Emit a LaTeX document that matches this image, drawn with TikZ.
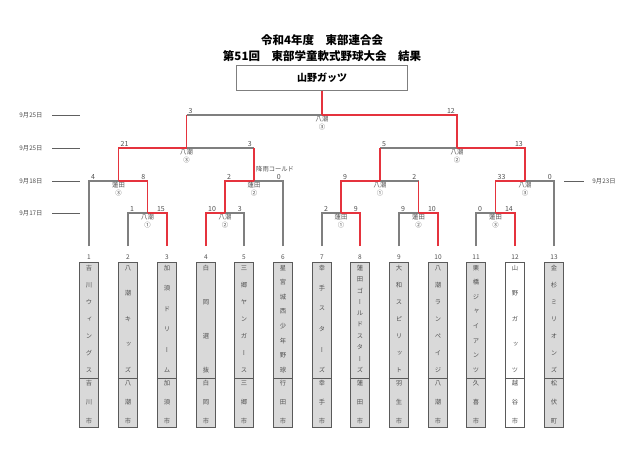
\documentclass[tikz,border=0pt]{standalone}
\usepackage{fontspec}
\setmainfont{Noto Sans CJK JP}
\newfontfamily\vfont[RawFeature=+vert]{Noto Sans CJK JP}
\definecolor{lgray}{HTML}{7F7F7F}
\definecolor{lred}{HTML}{E5333D}
\definecolor{boxfill}{HTML}{D9D9D9}
\definecolor{boxdraw}{HTML}{5A5A5A}
\definecolor{txtgray}{HTML}{505050}
\definecolor{dgray}{HTML}{606060}
\tikzset{
 gl/.style={draw=lgray, line width=1.3pt},
 rl/.style={draw=lred, line width=1.7pt},
 teamrect/.style={draw=boxdraw, line width=1pt, minimum width=19.5pt, minimum height=165pt, inner sep=0pt},
 boxdiv/.style={draw=boxdraw, line width=1pt},
 chr/.style={font=\vfont\fontsize{6.3}{6.3}\selectfont, text=txtgray, inner sep=0pt},
 numlbl/.style={font=\fontsize{6.5}{7}\selectfont, text=txtgray, inner sep=0pt},
 scL/.style={anchor=south west, font=\fontsize{7}{8}\selectfont, text=txtgray, inner sep=0pt, xshift=2pt, yshift=1.2pt},
 scR/.style={anchor=south east, font=\fontsize{7}{8}\selectfont, text=txtgray, inner sep=0pt, xshift=-2pt, yshift=1.2pt},
 venue/.style={anchor=north, align=center, font=\fontsize{6.3}{7.3}\selectfont, text=txtgray, inner sep=0pt, yshift=-1.5pt},
 datel/.style={font=\fontsize{6.3}{7}\selectfont, text=txtgray, inner sep=0pt},
 dline/.style={draw=dgray, line width=1pt},
 titlest/.style={font=\bfseries\fontsize{11.5}{12}\selectfont, inner sep=0pt},
 winbox/.style={draw=lgray, line width=1pt, minimum width=171pt, minimum height=24pt, inner sep=0pt, font=\bfseries\fontsize{10}{11}\selectfont},
}
\newcommand\tmbox[6]{%
  \node[teamrect, fill=#3] (box#1) at (#2,344.5) {};
  \coordinate (dv#1) at (#2,378);
  \draw[boxdiv] (box#1.west |- dv#1) -- (box#1.east |- dv#1);
  \node[numlbl] (num#1) at (#2,257) {#1};
  \foreach \ch [count=\k] in {#5} {\node[chr] (c#1-\k) at (#2,{268+(\k-1)*102/(#4-1)}) {\ch};}
  \foreach \ch [count=\k] in {#6} {\node[chr] (d#1-\k) at (#2,{383+(\k-1)*19}) {\ch};}
  \coordinate (t#1) at (#2,246);
}
\begin{document}
\begin{tikzpicture}[x=1pt,y=-1pt]
\useasboundingbox (0,0) rectangle (640,452);
\fill[white] (0,0) rectangle (640,452);
% titles
\node[titlest] (title1) at (322,40) {令和4年度　東部連合会};
\node[titlest] (title2) at (322,56) {第51回　東部学童軟式野球大会　結果};
\node[winbox] (win) at (322,78) {山野ガッツ};
% teams
\tmbox{1}{89}{boxfill}{7}{吉,川,ウ,ィ,ン,グ,ス}{吉,川,市}
\tmbox{2}{128}{boxfill}{5}{八,潮,キ,ッ,ズ}{八,潮,市}
\tmbox{3}{167}{boxfill}{6}{加,須,ド,リ,ー,ム}{加,須,市}
\tmbox{4}{206}{boxfill}{4}{白,岡,選,抜}{白,岡,市}
\tmbox{5}{244}{boxfill}{7}{三,郷,ヤ,ン,ガ,ー,ス}{三,郷,市}
\tmbox{6}{283}{boxfill}{8}{星,宮,城,西,少,年,野,球}{行,田,市}
\tmbox{7}{322}{boxfill}{6}{幸,手,ス,タ,ー,ズ}{幸,手,市}
\tmbox{8}{360}{boxfill}{10}{蓮,田,ゴ,ー,ル,ド,ス,タ,ー,ズ}{蓮,田,市}
\tmbox{9}{399}{boxfill}{7}{大,和,ス,ピ,リ,ッ,ト}{羽,生,市}
\tmbox{10}{438}{boxfill}{7}{八,潮,ラ,ン,ペ,イ,ジ}{八,潮,市}
\tmbox{11}{476}{boxfill}{8}{栗,橋,ジ,ャ,イ,ア,ン,ツ}{久,喜,市}
\tmbox{12}{515}{white}{5}{山,野,ガ,ッ,ツ}{越,谷,市}
\tmbox{13}{554}{boxfill}{7}{金,杉,ミ,リ,オ,ン,ズ}{松,伏,町}
% match points
\coordinate (m23) at (147.5,213);
\coordinate (m45) at (225,213);
\coordinate (m78) at (341,213);
\coordinate (m910) at (418.5,213);
\coordinate (m1112) at (495.5,213);
\coordinate (q1) at (118.5,181);
\coordinate (q2) at (254,181);
\coordinate (q3) at (380,181);
\coordinate (q4) at (525,181);
\coordinate (s1) at (186.5,148);
\coordinate (s2) at (457,148);
\coordinate (fin) at (322,115);
% gray lines
\draw[gl] (t1) |- (q1);
\draw[gl] (t2) |- (m23);
\draw[gl] (t5) |- (m45);
\draw[gl] (t6) |- (q2);
\draw[gl] (t7) |- (m78);
\draw[gl] (t9) |- (m910);
\draw[gl] (t11) |- (m1112);
\draw[gl] (t13) |- (q4);
\draw[gl] (m910 |- q3) -- (q3);
\draw[gl] (q2 |- s1) -- (s1);
\draw[gl] (q3 |- s2) -- (s2);
\draw[gl] (s1 |- fin) -- (fin);
% red lines
\draw[rl] (t3) |- (m23);
\draw[rl] (t4) |- (m45);
\draw[rl] (t8) |- (m78);
\draw[rl] (t10) |- (m910);
\draw[rl] (t12) |- (m1112);
\draw[rl] (m23) |- (q1);
\draw[rl] (m45) |- (q2);
\draw[rl] (m78) |- (q3);
\draw[rl] (m910) -- (m910 |- q3);
\draw[rl] (m1112) |- (q4);
\draw[rl] (q1) |- (s1);
\draw[rl] (q2) -- (q2 |- s1);
\draw[rl] (q3) -- (q3 |- s2);
\draw[rl] (q4) |- (s2);
\draw[rl] (s1) -- (s1 |- fin);
\draw[rl] (s2) |- (fin);
\draw[rl] (win.south) -- (fin);
% scores
\node[scL] (sc-f1) at (186.5,115) {3};
\node[scR] (sc-f2) at (457,115) {12};
\node[scL] (sc-s11) at (118.5,148) {21};
\node[scR] (sc-s12) at (254,148) {3};
\node[scL] (sc-s21) at (380,148) {5};
\node[scR] (sc-s22) at (525,148) {13};
\node[scL] (sc-q11) at (89,181) {4};
\node[scR] (sc-q12) at (147.5,181) {8};
\node[scL] (sc-q21) at (225,181) {2};
\node[scR] (sc-q22) at (283,181) {0};
\node[scL] (sc-q31) at (341,181) {9};
\node[scR] (sc-q32) at (418.5,181) {2};
\node[scL] (sc-q41) at (495.5,181) {33};
\node[scR] (sc-q42) at (554,181) {0};
\node[scL] (sc-a1) at (128,213) {1};
\node[scR] (sc-a2) at (167,213) {15};
\node[scL] (sc-b1) at (206,213) {10};
\node[scR] (sc-b2) at (244,213) {3};
\node[scL] (sc-c1) at (322,213) {2};
\node[scR] (sc-c2) at (360,213) {9};
\node[scL] (sc-d1) at (399,213) {9};
\node[scR] (sc-d2) at (438,213) {10};
\node[scL] (sc-e1) at (476,213) {0};
\node[scR] (sc-e2) at (515,213) {14};
% venues
\node[venue] (v-f) at (fin) {八潮\\③};
\node[venue] (v-s1) at (s1) {八潮\\③};
\node[venue] (v-s2) at (s2) {八潮\\②};
\node[venue] (v-q1) at (q1) {蓮田\\③};
\node[venue] (v-q2) at (q2) {蓮田\\②};
\node[venue] (v-q3) at (q3) {八潮\\①};
\node[venue] (v-q4) at (q4) {八潮\\③};
\node[venue] (v-m23) at (m23) {八潮\\①};
\node[venue] (v-m45) at (m45) {八潮\\②};
\node[venue] (v-m78) at (m78) {蓮田\\①};
\node[venue] (v-m910) at (m910) {蓮田\\②};
\node[venue] (v-m1112) at (m1112) {蓮田\\③};
\node[datel, anchor=west] (rain) at (256,169) {降雨コールド};
% dates
\node[datel] (date1) at (31,115) {9月25日};
\node[datel] (date2) at (31,148) {9月25日};
\node[datel] (date3) at (31,181) {9月18日};
\node[datel] (date4) at (31,213) {9月17日};
\node[datel] (date5) at (604,181) {9月23日};
\coordinate (dl1a) at (52,115); \coordinate (dl1b) at (80,115);
\coordinate (dl2a) at (52,148); \coordinate (dl2b) at (80,148);
\coordinate (dl3a) at (52,181); \coordinate (dl3b) at (80,181);
\coordinate (dl4a) at (52,213); \coordinate (dl4b) at (80,213);
\coordinate (dl5a) at (564,181); \coordinate (dl5b) at (584,181);
\draw[dline] (dl1a) -- (dl1b);
\draw[dline] (dl2a) -- (dl2b);
\draw[dline] (dl3a) -- (dl3b);
\draw[dline] (dl4a) -- (dl4b);
\draw[dline] (dl5a) -- (dl5b);
\end{tikzpicture}
\end{document}
